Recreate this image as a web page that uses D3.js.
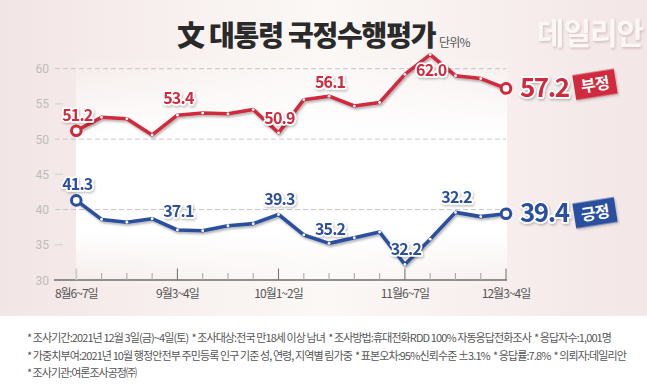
<!DOCTYPE html>
<html><head><meta charset="utf-8">
<script src="https://cdn.jsdelivr.net/npm/d3@7"></script>
<style>
html,body{margin:0;padding:0;background:#fff;}
svg{display:block;font-family:"Noto Sans CJK KR","Noto Sans",sans-serif;}
</style></head>
<body><svg id="c" width="647" height="387"></svg>
<script>
// ---- data ----
const weeks = ["8월6~7일","8월13~14일","8월20~21일","8월27~28일","9월3~4일","9월10~11일","9월17~18일","9월24~25일","10월1~2일","10월8~9일","10월15~16일","10월22~23일","10월29~30일","11월6~7일","11월12~13일","11월19~20일","11월26~27일","12월3~4일"];
const tickLabels = ["8월6~7일","9월3~4일","10월1~2일","11월6~7일","12월3~4일"];
const negative = [51.2,53.1,52.9,50.6,53.4,53.7,53.6,54.2,50.9,55.6,56.1,54.7,55.2,59.2,62.0,59.0,58.6,57.2];
const positive = [41.3,38.6,38.2,38.7,37.1,37.0,37.7,38.0,39.3,36.4,35.2,36.0,36.8,32.2,35.8,39.6,39.0,39.4];
const negLabelIdx = [0,4,8,10,14];
const negLabelText = ["51.2","53.4","50.9","56.1","62.0"];
const posLabelIdx = [0,4,8,10,13,15];
const posLabelText = ["41.3","37.1","39.3","35.2","32.2","32.2"];
const yTicks = [30,35,40,45,50,55,60];
const gridTicks = [40,50,60];
const seriesNames = ["부정","긍정"];
const title = "文 대통령 국정수행평가";
const unit = "단위%";
const footer = [
 "* 조사기간:2021년 12월 3일(금)~4일(토)  * 조사대상:전국 만18세 이상 남녀  * 조사방법:휴대전화RDD 100% 자동응답전화조사  * 응답자수:1,001명",
 "* 가중치부여:2021년 10월 행정안전부 주민등록 인구 기준 성, 연령, 지역별 림가중  * 표본오차:95%신뢰수준 ±3.1%  * 응답률:7.8%  * 의뢰자:데일리안",
 "* 조사기관:여론조사공정㈜"
];

// ---- drawing ----
const svg = d3.select("#c");
const RED = "#cf2a3c", BLUE = "#2b4f9f";
const defs = svg.append("defs");
const bg = defs.append("linearGradient").attr("id","bg").attr("x1",0).attr("x2",1).attr("y1",0).attr("y2",0);
[[0,"#f2e5e5"],[0.3,"#f8f1ef"],[0.5,"#fbf8f6"],[0.75,"#f7efee"],[1,"#f3e6e6"]].forEach(s=>bg.append("stop").attr("offset",s[0]).attr("stop-color",s[1]));
const wg = defs.append("linearGradient").attr("id","wg").attr("x1",0).attr("x2",0).attr("y1",0).attr("y2",1);
[[0,0],[0.35,1],[0.75,1],[1,0]].forEach(s=>wg.append("stop").attr("offset",s[0]).attr("stop-color","#fff").attr("stop-opacity",s[1]));
const sh = defs.append("filter").attr("id","sh").attr("x","-20%").attr("y","-20%").attr("width","140%").attr("height","160%");
sh.append("feDropShadow").attr("dx",1.2).attr("dy",1.8).attr("stdDeviation",1.2).attr("flood-color","#000").attr("flood-opacity",0.3);
const sh2 = defs.append("filter").attr("id","sh2").attr("x","-20%").attr("y","-20%").attr("width","140%").attr("height","160%");
sh2.append("feDropShadow").attr("dx",1).attr("dy",1.5).attr("stdDeviation",1).attr("flood-color","#000").attr("flood-opacity",0.25);
const sh3 = defs.append("filter").attr("id","sh3").attr("x","-20%").attr("y","-20%").attr("width","140%").attr("height","160%");
sh3.append("feDropShadow").attr("dx",1).attr("dy",1.5).attr("stdDeviation",1.2).attr("flood-color","#b89a9a").attr("flood-opacity",0.55);

svg.append("rect").attr("width",647).attr("height",316).attr("fill","url(#bg)");
svg.append("rect").attr("x",76).attr("y",55).attr("width",431).attr("height",235).attr("fill","url(#wg)");

const x = d3.scalePoint().domain(d3.range(weeks.length)).range([76.3,506]);
const y = d3.scaleLinear().domain([30,60]).range([280,68.7]);

// watermark
svg.append("text").attr("x",590).attr("y",44).attr("text-anchor","middle")
  .attr("font-size",30).attr("font-weight",700).attr("fill","#fbf7f7")
  .attr("letter-spacing",-1).attr("filter","url(#sh3)").text("데일리안");

// title
svg.append("text").attr("x",177).attr("y",46).attr("font-size",28).attr("font-weight",900)
  .attr("fill","#2a2a2a").attr("letter-spacing",-1.2).text(title);
svg.append("text").attr("x",439).attr("y",47).attr("font-size",12).attr("fill","#555").attr("letter-spacing",-0.8).text(unit);

// y axis labels
svg.append("g").selectAll("text").data(yTicks).join("text")
  .attr("x",49).attr("y",d=>y(d)+4.5).attr("text-anchor","end").attr("font-size",12)
  .attr("fill","#bdbdbd").attr("font-family","Roboto, 'Noto Sans', sans-serif").text(d=>d);
svg.append("g").selectAll("line").data(yTicks.filter(t=>t!==30 && !gridTicks.includes(t))).join("line")
  .attr("x1",55).attr("x2",63).attr("y1",d=>y(d)).attr("y2",d=>y(d)).attr("stroke","#cfcfcf").attr("stroke-width",1);
svg.append("g").selectAll("line").data(gridTicks).join("line")
  .attr("x1",55).attr("x2",506).attr("y1",d=>y(d)).attr("y2",d=>y(d))
  .attr("stroke","#c6c6c6").attr("stroke-width",1).attr("stroke-dasharray","5,3");

// x axis
const xAxis = d3.axisBottom(x).tickSize(0).tickFormat("");
const gx = svg.append("g").attr("transform","translate(0,280)").call(xAxis);
gx.select(".domain").remove();
svg.append("line").attr("x1",54).attr("x2",507).attr("y1",280).attr("y2",280).attr("stroke","#6e6e6e").attr("stroke-width",1.3);
const labeled = weeks.map(w=>tickLabels.includes(w));
svg.append("g").selectAll("line").data(d3.range(weeks.length)).join("line")
  .attr("x1",i=>x(i)).attr("x2",i=>x(i)).attr("y1",i=>labeled[i]?268.5:273).attr("y2",280)
  .attr("stroke",i=>i===0?"#cccccc":(labeled[i]?"#777":"#aaa")).attr("stroke-width",i=>i===0?1.8:1.1);
svg.append("g").selectAll("text").data(d3.range(weeks.length).filter(i=>labeled[i])).join("text")
  .attr("x",i=>x(i)).attr("y",297.5).attr("text-anchor","middle").attr("font-size",12)
  .attr("fill","#555").attr("letter-spacing",-1).text(i=>weeks[i]);

// lines
const line = d3.line().x((d,i)=>x(i)).y(d=>y(d));
function drawSeries(vals,color){
  const g = svg.append("g");
  g.append("path").datum(vals).attr("d",line).attr("fill","none").attr("stroke",color)
   .attr("stroke-width",3.6).attr("stroke-linejoin","round").attr("filter","url(#sh)");
  g.selectAll("circle.d").data(vals.slice(1,-1)).join("circle").attr("class","d")
   .attr("cx",(d,i)=>x(i+1)).attr("cy",d=>y(d)).attr("r",1.4).attr("fill","#fff");
  [0,vals.length-1].forEach(i=>{
    g.append("circle").attr("cx",x(i)).attr("cy",y(vals[i])).attr("r",4.8)
     .attr("fill","#fff").attr("stroke",color).attr("stroke-width",3);
  });
}
drawSeries(negative,RED);
drawSeries(positive,BLUE);

// data labels
function drawLabels(idx,texts,vals,color,offsets){
  svg.append("g").selectAll("text").data(idx).join("text")
   .attr("x",i=>x(i)+1).attr("y",i=>y(vals[i])+(offsets[i]!==undefined?offsets[i]:-10))
   .attr("text-anchor","middle").attr("font-size",16).attr("font-weight",700)
   .attr("letter-spacing",-0.8).attr("fill",color).attr("stroke","#fff").attr("stroke-width",3.5)
   .attr("paint-order","stroke").attr("stroke-linejoin","round").attr("filter","url(#sh2)")
   .text((i,k)=>texts[k]);
}
drawLabels(negLabelIdx,negLabelText,negative,RED,{4:-11,8:-9,10:-8,14:21});
drawLabels(posLabelIdx,posLabelText,positive,BLUE,{4:-13,8:-9,10:-8,15:-9});

// end values + tags
const last = weeks.length-1;
[[negative,RED,seriesNames[0],-4],[positive,BLUE,seriesNames[1],-1]].forEach(([vals,color,name,tagDy])=>{
  const yy = y(vals[last]);
  svg.append("text").attr("x",520).attr("y",yy+8.5).attr("font-size",26).attr("font-weight",700)
    .attr("letter-spacing",-1.5).attr("fill",color).attr("stroke","#fff").attr("stroke-width",3.5)
    .attr("paint-order","stroke").attr("stroke-linejoin","round").attr("filter","url(#sh2)")
    .text(vals[last].toFixed(1));
  const tg = svg.append("g").attr("transform",`translate(595,${yy+tagDy}) rotate(-9)`);
  tg.append("rect").attr("x",-21).attr("y",-12.5).attr("width",42).attr("height",25).attr("fill",color).attr("filter","url(#sh2)");
  tg.append("text").attr("y",6).attr("text-anchor","middle").attr("font-size",16).attr("font-weight",700)
    .attr("fill","#fff").attr("letter-spacing",-0.5).text(name);
});

// footer: fit each line to its width by adjusting letter spacing
const fw = [584,599,109];
svg.append("g").selectAll("text").data(footer).join("text")
  .attr("x",27).attr("y",(d,i)=>342+i*17.5).attr("font-size",11).attr("fill","#555")
  .style("white-space","pre").text(d=>d)
  .each(function(d,i){
    const L = this.getComputedTextLength();
    const n = d.length;
    d3.select(this).attr("letter-spacing",((fw[i]-L)/n).toFixed(3));
  });
</script></body></html>
